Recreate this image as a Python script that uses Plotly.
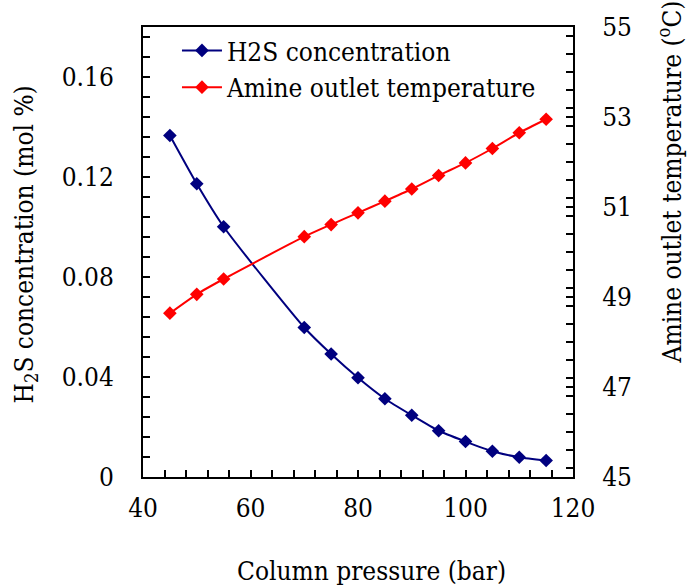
import plotly.graph_objects as go

# Column pressure (bar)
pressure = [45, 50, 55, 70, 75, 80, 85, 90, 95, 100, 105, 110, 115]
# H2S concentration in the sweet gas (mol %)
h2s_conc = [0.1366, 0.1173, 0.1001, 0.0598, 0.0492, 0.0397, 0.0313,
            0.0247, 0.0185, 0.0142, 0.0103, 0.0079, 0.0066]
# Rich amine outlet temperature (°C)
amine_temp = [48.64, 49.06, 49.40, 50.34, 50.61, 50.87, 51.13,
              51.40, 51.70, 51.98, 52.30, 52.65, 52.95]

FONT = "DejaVu Serif Condensed"
FS = 26
BLUE = "#00007F"
RED = "#FF0000"

fig = go.Figure()
fig.add_trace(go.Scatter(
    x=pressure, y=h2s_conc, name="H2S concentration",
    mode="lines+markers",
    line=dict(color=BLUE, width=2, shape="spline", smoothing=0.6),
    marker=dict(symbol="diamond", size=10.5, color=BLUE),
    yaxis="y",
))
fig.add_trace(go.Scatter(
    x=pressure, y=amine_temp, name="Amine outlet temperature",
    mode="lines+markers",
    line=dict(color=RED, width=2, shape="spline", smoothing=0.6),
    marker=dict(symbol="diamond", size=10.5, color=RED),
    yaxis="y2",
))

axis_common = dict(
    showline=True, linecolor="black", linewidth=2,
    ticks="inside", ticklen=7, tickwidth=2, tickcolor="black",
    showgrid=False, zeroline=False,
    tickfont=dict(family=FONT, size=FS, color="black"),
)

fig.update_layout(
    width=688, height=586,
    margin=dict(l=143, r=115, t=24, b=109),
    paper_bgcolor="white", plot_bgcolor="white",
    font=dict(family=FONT, size=FS, color="black"),
    showlegend=True,
    legend=dict(
        x=0.079, y=1.0, xanchor="left", yanchor="top",
        bgcolor="rgba(0,0,0,0)", borderwidth=0,
        font=dict(family=FONT, size=FS, color="black"),
        itemwidth=40, tracegroupgap=0,
    ),
    xaxis=dict(
        range=[40, 120], tick0=40, dtick=20, mirror=True,
        ticklabelstandoff=7,
        minor=dict(dtick=4, ticks="inside", ticklen=7, tickwidth=2, tickcolor="black"),
        **axis_common,
    ),
    yaxis=dict(
        range=[0, 0.18], tick0=0, dtick=0.04,
        ticklabelstandoff=22,
        minor=dict(dtick=0.008, ticks="inside", ticklen=7, tickwidth=2, tickcolor="black"),
        **axis_common,
    ),
    yaxis2=dict(
        range=[45, 55], tick0=45, dtick=2, overlaying="y", side="right",
        ticklabelstandoff=22,
        minor=dict(dtick=0.4, ticks="inside", ticklen=7, tickwidth=2, tickcolor="black"),
        **axis_common,
    ),
    annotations=[
        dict(text="Column pressure (bar)", xref="paper", yref="paper",
             x=0.5325, y=-0.208, xanchor="center", yanchor="middle",
             showarrow=False, font=dict(family=FONT, size=FS, color="black")),
        dict(text="H<sub>2</sub>S concentration (mol %)", xref="paper", yref="paper",
             x=-0.273, y=0.516, xanchor="center", yanchor="middle", textangle=-90,
             showarrow=False, font=dict(family=FONT, size=FS, color="black")),
        dict(text="Amine outlet temperature (<sup>o</sup>C)", xref="paper", yref="paper",
             x=1.226, y=0.655, xanchor="center", yanchor="middle", textangle=-90,
             showarrow=False, font=dict(family=FONT, size=FS, color="black")),
    ],
)

fig.write_html("out.html")
